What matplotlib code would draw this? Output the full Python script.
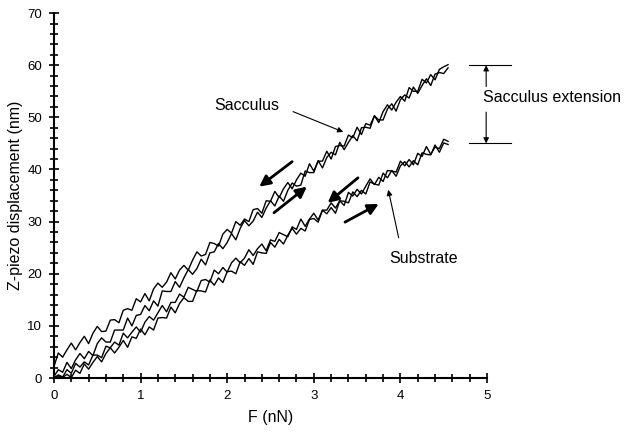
import numpy as np
import matplotlib
matplotlib.use("Agg")
import matplotlib.pyplot as plt
from matplotlib.patches import FancyArrowPatch
from matplotlib.ticker import MultipleLocator

plt.rcParams['font.family'] = ['Liberation Sans', 'DejaVu Sans']

# sampling step of the force traces (nN)
step = 0.05

# Z-piezo displacement (nm)
sacculus_retract = [
    2.2, 4.8, 4.0, 5.4, 6.7, 5.4, 6.8, 8.0, 6.6, 8.6,
    9.9, 8.9, 9.0, 11.1, 11.2, 10.6, 13.0, 13.3, 13.0, 15.2,
    14.6, 16.2, 14.8, 17.1, 18.2, 17.4, 18.4, 20.2, 19.0, 20.7,
    21.6, 20.7, 22.6, 24.2, 23.4, 23.7, 26.0, 25.8, 25.3, 27.6,
    28.5, 27.8, 30.0, 29.3, 30.5, 30.0, 32.3, 32.5, 31.6, 34.0,
    33.9, 35.8, 34.6, 36.3, 37.5, 36.3, 38.0, 39.3, 38.7, 41.1,
    39.7, 41.6, 41.6, 43.5, 42.0, 44.4, 44.6, 44.5, 46.6, 46.1,
    48.1, 46.7, 48.8, 48.5, 50.3, 49.0, 51.1, 52.4, 51.4, 52.9,
    54.0, 53.1, 55.7, 55.0, 55.0, 57.3, 56.6, 58.2, 57.2, 59.2,
    59.7, 60.1]
sacculus_approach = [
    0.3, 1.6, 1.1, 3.0, 1.8, 3.5, 4.7, 3.7, 5.1, 4.3,
    6.6, 7.7, 6.9, 6.9, 9.2, 9.2, 9.2, 11.5, 10.0, 12.0,
    12.2, 13.9, 12.9, 14.8, 13.8, 16.7, 16.6, 16.6, 18.5, 17.4,
    19.2, 20.8, 19.9, 21.0, 22.8, 21.7, 24.0, 24.2, 25.8, 24.8,
    26.0, 27.7, 26.5, 28.7, 30.2, 29.2, 30.1, 31.8, 30.8, 32.6,
    34.0, 33.0, 34.9, 33.9, 36.0, 37.4, 36.8, 37.0, 39.7, 39.4,
    39.4, 41.7, 40.3, 42.3, 43.3, 42.8, 45.2, 43.8, 45.2, 46.5,
    45.5, 48.0, 48.1, 47.9, 50.3, 49.5, 49.5, 51.6, 52.6, 51.2,
    53.4, 54.3, 53.7, 55.8, 54.6, 56.1, 57.4, 56.1, 58.3, 58.6,
    58.4, 59.5]
substrate_retract = [
    0.0, 0.6, 0.2, 1.6, 0.9, 2.8, 2.1, 3.1, 2.5, 4.4,
    4.4, 3.9, 6.1, 5.8, 6.9, 6.3, 8.6, 7.7, 8.8, 9.8,
    8.8, 10.7, 11.8, 11.1, 12.5, 13.9, 12.7, 14.5, 14.5, 16.1,
    15.5, 17.4, 17.0, 16.6, 18.7, 18.9, 18.4, 20.7, 20.0, 21.2,
    20.3, 22.1, 23.0, 22.1, 23.0, 24.6, 23.5, 24.8, 25.7, 24.4,
    26.5, 26.2, 27.9, 27.5, 27.1, 29.0, 28.5, 30.5, 29.1, 30.5,
    31.6, 30.3, 32.2, 32.2, 33.6, 32.6, 34.0, 33.1, 35.6, 34.9,
    36.2, 35.3, 36.8, 38.2, 37.1, 38.5, 37.7, 39.8, 39.7, 39.5,
    41.6, 40.7, 41.9, 40.9, 43.1, 42.5, 44.4, 42.9, 44.3, 44.0,
    45.8, 45.4]
substrate_approach = [
    0.0, 0.4, 0.1, 0.7, 0.1, 1.5, 0.9, 2.7, 1.7, 3.0,
    4.1, 3.1, 4.7, 5.8, 4.8, 5.9, 7.2, 5.9, 7.9, 7.6,
    9.4, 8.3, 9.8, 9.2, 11.5, 11.6, 11.5, 13.6, 12.5, 14.3,
    15.4, 14.7, 14.7, 16.8, 16.7, 16.5, 18.8, 17.8, 19.2, 18.3,
    20.4, 20.5, 20.0, 22.3, 21.6, 22.9, 21.8, 24.2, 24.0, 23.9,
    26.0, 25.1, 26.6, 25.7, 27.4, 28.7, 27.6, 28.7, 28.2, 30.4,
    30.6, 29.9, 32.2, 31.5, 32.7, 31.6, 34.0, 33.9, 33.6, 35.7,
    34.8, 36.0, 35.3, 37.6, 37.2, 37.0, 39.3, 38.4, 39.8, 38.7,
    40.7, 41.5, 40.5, 41.7, 40.9, 43.2, 42.9, 42.8, 44.7, 43.3,
    45.1, 44.8]

traces = [sacculus_retract, sacculus_approach, substrate_retract, substrate_approach]

fig = plt.figure(figsize=(6.24, 4.36), dpi=100)
ax = fig.add_axes([0.0865, 0.133, 0.694, 0.837])

for z in traces:
    f = np.arange(len(z)) * step
    ax.plot(f, z, color='k', lw=1.0)

ax.set_xlim(0, 5)
ax.set_ylim(0, 70)
ax.xaxis.set_major_locator(MultipleLocator(1))
ax.xaxis.set_minor_locator(MultipleLocator(0.2))
ax.yaxis.set_major_locator(MultipleLocator(10))
ax.yaxis.set_minor_locator(MultipleLocator(2))
ax.tick_params(which='both', direction='inout', width=1.2, labelsize=9.5)
ax.tick_params(which='major', length=7, pad=5)
ax.tick_params(which='minor', length=6)
for s in ['top', 'right']:
    ax.spines[s].set_visible(False)
for s in ['left', 'bottom']:
    ax.spines[s].set_linewidth(1.5)

ax.set_xlabel('F (nN)', fontsize=11.5, labelpad=6)
ax.set_ylabel('Z-piezo displacement (nm)', fontsize=11.5, labelpad=3)

# labels with thin pointers
thin = dict(arrowstyle='-|>', color='k', lw=0.8, mutation_scale=8, shrinkA=0, shrinkB=0)
ax.text(2.23, 52.2, 'Sacculus', fontsize=11.5, ha='center', va='center')
ax.annotate('', xy=(3.34, 47.2), xytext=(2.76, 51.1), arrowprops=thin)
ax.text(4.27, 23.0, 'Substrate', fontsize=11.5, ha='center', va='center')
ax.annotate('', xy=(3.86, 36.1), xytext=(3.98, 26.9), arrowprops=thin)

# sacculus extension bracket
for yb in [60, 45]:
    ax.plot([4.79, 5.28], [yb, yb], color='k', lw=0.8, clip_on=False)
ax.annotate('', xy=(4.99, 60), xytext=(4.99, 55.9), arrowprops=thin, annotation_clip=False)
ax.annotate('', xy=(4.99, 45), xytext=(4.99, 51.0), arrowprops=thin, annotation_clip=False)
ax.text(4.95, 53.9, 'Sacculus extension', fontsize=11.5, ha='left', va='center')

# direction arrows
directions = [((2.75, 41.5), (2.37, 36.7)),
              ((2.54, 31.7), (2.92, 36.7)),
              ((3.51, 38.4), (3.16, 33.6)),
              ((3.36, 29.9), (3.75, 33.4))]
for a, b in directions:
    ax.add_patch(FancyArrowPatch(a, b, arrowstyle='-|>', mutation_scale=16,
                                 lw=2, color='k', shrinkA=0, shrinkB=0))

fig.savefig('out.png', dpi=100)
